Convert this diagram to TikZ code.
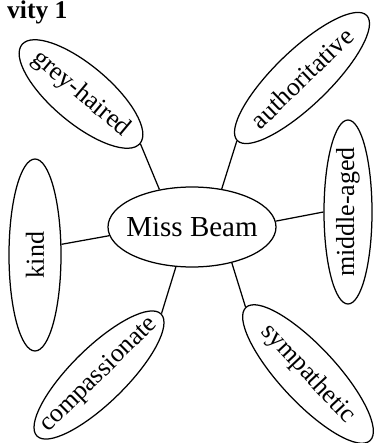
\documentclass[tikz,border=0pt]{standalone}
\usepackage{fontspec}
\setmainfont{Liberation Serif}
\usetikzlibrary{shapes.geometric}
\begin{document}
\begin{tikzpicture}[x=1pt,y=-1pt,
  bub/.style={draw, ellipse, line width=1.25pt, inner sep=0pt},
  lbl/.style={inner sep=0pt, font=\fontsize{26}{30}\selectfont},
  link/.style={line width=1.25pt}]
\useasboundingbox (0,0) rectangle (373,443);
\node[anchor=base west, inner sep=0pt, font=\fontsize{25.5}{30}\selectfont\bfseries] (title) at (7,18.5) {vity 1};
% ellipses
\node[bub, minimum width=168pt, minimum height=80pt] (mb) at (192,227) {};
\node[bub, rotate=-40, minimum width=154pt, minimum height=58pt] (gh) at (81,94) {};
\node[bub, rotate=44, minimum width=180pt, minimum height=55pt] (au) at (302,78) {};
\node[bub, rotate=90, minimum width=184pt, minimum height=48pt] (ma) at (348,212) {};
\node[bub, rotate=90, minimum width=192pt, minimum height=52pt] (kd) at (35,255) {};
\node[bub, rotate=44.5, minimum width=174pt, minimum height=55pt] (cp) at (99,375) {};
\node[bub, rotate=-47, minimum width=182pt, minimum height=56pt] (sy) at (308,374) {};
% labels
\node[lbl, font=\fontsize{29}{33}\selectfont] (mbt) at (mb) {Miss Beam};
\node[lbl, rotate=-40] (ght) at (gh) {grey-haired};
\node[lbl, rotate=44] (aut) at (au) {authoritative};
\node[lbl, rotate=90] (mat) at (ma) {middle-aged};
\node[lbl, rotate=90] (kdt) at (kd) {kind};
\node[lbl, rotate=44.5] (cpt) at (cp) {compassionate};
\node[lbl, rotate=-47] (syt) at (sy) {sympathetic};
% connectors
\draw[link] (mb.131) -- (gh.east);
\draw[link] (mb.52) -- (au.west);
\draw[link] (mb.4) -- (ma.north);
\draw[link] (mb.186) -- (kd.-68);
\draw[link] (mb.248) -- (cp.east);
\draw[link] (mb.-42) -- (sy.west);
\end{tikzpicture}
\end{document}
